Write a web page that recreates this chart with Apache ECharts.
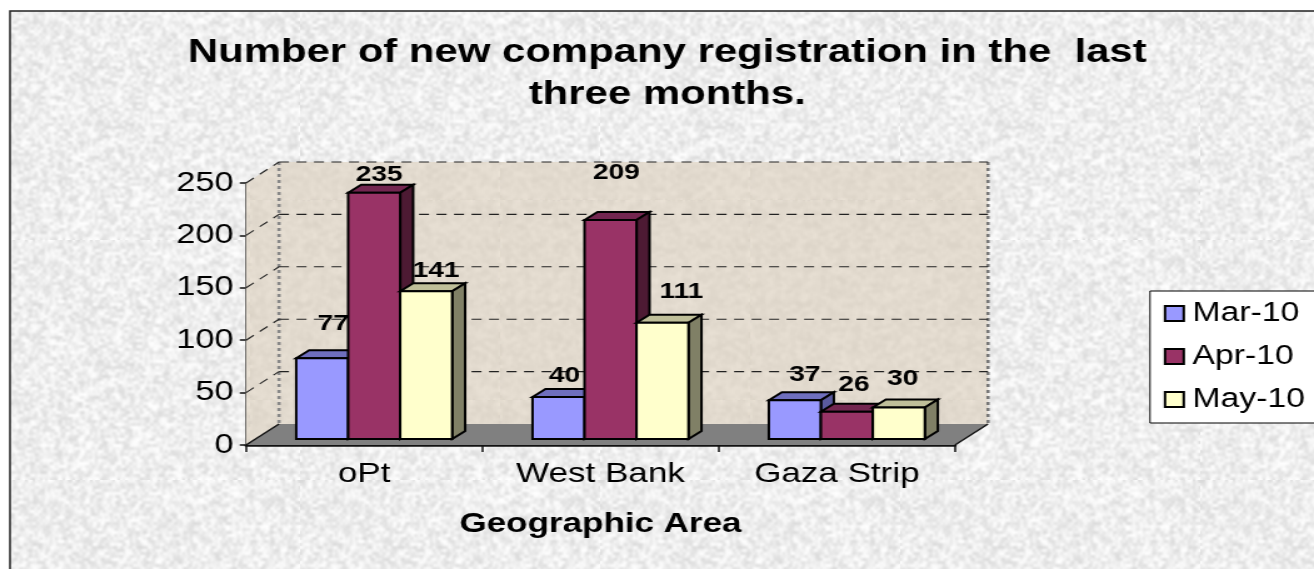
<!DOCTYPE html>
<html>
<head>
<meta charset="utf-8">
<style>
html,body{margin:0;padding:0;width:1314px;height:569px;overflow:hidden;background:#fff}
#chart{width:1051px;height:569px;transform-origin:0 0;transform:scaleX(1.25024)}
</style>
<script src="https://cdn.jsdelivr.net/npm/echarts@6/dist/echarts.min.js"></script>
</head>
<body>
<div id="chart"></div>
<script>
const categories = ['oPt', 'West Bank', 'Gaza Strip'];
const seriesNames = ['Mar-10', 'Apr-10', 'May-10'];
const mar10 = [77, 40, 37];
const apr10 = [235, 209, 26];
const may10 = [141, 111, 30];
const yTicks = [0, 50, 100, 150, 200, 250];
const titleText = 'Number of new company registration in the  last\nthree months.';
const xAxisName = 'Geographic Area';

// Layout and style, in reference pixels (the canvas is stretched horizontally by S)
const S = 1.25024;
const palette = [
  {front: '#9999FF', top: '#6F6FBE', side: '#5A5A9E'},
  {front: '#993366', top: '#732650', side: '#4D1A33'},
  {front: '#FFFFCC', top: '#BFBF99', side: '#808066'}
];
const labelShiftX = [[11, 6, 10], [5, 6, 7], [10, 19, 4]];
const labelRise = [[35, 21, 25], [18, 47, 27], [20, 31, 29]];
const wallDepth = {x: 33 / S, y: -21};
const barDepth = {x: 13 / S, y: -8};
const barInset = {x: 10 / S, y: -6};

function makeTexture(size, base, spread, seed, blur) {
  const c = document.createElement('canvas');
  c.width = c.height = size;
  const g = c.getContext('2d');
  let s = seed;
  const next = () => (s = (s * 1664525 + 1013904223) >>> 0) / 4294967296;
  g.fillStyle = 'rgb(' + base.join(',') + ')';
  g.fillRect(0, 0, size, size);
  for (let y = 0; y < size; y += 3) {
    for (let x = 0; x < size; x += 2) {
      const r = next();
      const d = (r - 0.6) * spread;
      g.fillStyle = 'rgb(' + base.map(v => Math.max(0, Math.min(255, Math.round(v + d)))).join(',') + ')';
      g.fillRect(x, y, 2, 3);
    }
  }
  g.filter = 'blur(' + blur + 'px)';
  g.drawImage(c, 0, 0);
  g.filter = 'none';
  return c;
}
const paperTexture = {image: makeTexture(240, [243, 243, 243], 44, 12345, 0.8), repeat: 'repeat'};
const wallTexture = {image: makeTexture(200, [228, 220, 208], 18, 987, 1.6), repeat: 'repeat'};

function renderWalls(params, api) {
  const cs = params.coordSys;
  const tick = api.value(0);
  const dx = wallDepth.x, dy = wallDepth.y;
  const left = cs.x, right = cs.x + cs.width;
  const y = api.coord([0, tick])[1];
  const y0 = api.coord([0, 0])[1];
  const yTop = api.coord([0, 250])[1];
  const children = [];
  const dash = {stroke: '#222', lineWidth: 1.1, lineDash: [8, 6]};
  if (tick === 0) {
    children.push({type: 'polygon', z2: 0, shape: {points: [[left + dx, yTop + dy], [right + dx, yTop + dy], [right + dx, y0 + dy], [left + dx, y0 + dy]]}, style: {fill: wallTexture}});
    children.push({type: 'polygon', z2: 0, shape: {points: [[left, yTop], [left + dx, yTop + dy], [left + dx, y0 + dy], [left, y0]]}, style: {fill: wallTexture}});
    children.push({type: 'polygon', z2: 1, shape: {points: [[left, y0], [left + dx, y0 + dy], [right + dx, y0 + dy], [right, y0]]}, style: {fill: '#808080'}});
    children.push({type: 'line', z2: 2, shape: {x1: right, y1: y0, x2: right + dx, y2: y0 + dy}, style: {stroke: '#111', lineWidth: 1.5}});
    children.push({type: 'line', z2: 2, shape: {x1: left, y1: y0, x2: left + dx, y2: y0 + dy}, style: {stroke: '#111', lineWidth: 1.5}});
    children.push({type: 'line', z2: 2, shape: {x1: left + dx, y1: yTop + dy, x2: left + dx, y2: y0 + dy}, style: {stroke: '#888', lineWidth: 2.6, lineDash: [3, 3]}});
    children.push({type: 'line', z2: 2, shape: {x1: right + dx, y1: yTop + dy, x2: right + dx, y2: y0 + dy}, style: {stroke: '#777', lineWidth: 2.6, lineDash: [3, 3]}});
  } else {
    children.push({type: 'line', z2: 2, shape: {x1: left + dx, y1: y + dy, x2: right + dx, y2: y + dy}, style: dash});
    children.push({type: 'line', z2: 2, shape: {x1: left, y1: y, x2: left + dx, y2: y + dy}, style: dash});
  }
  return {type: 'group', children};
}

function renderBar(seriesIndex) {
  return function (params, api) {
    const cat = api.value(0), val = api.value(1);
    const catW = api.size([1, 0])[0];
    const w = catW * 0.22;
    const cx = api.coord([cat, 0])[0] + barInset.x + (seriesIndex - 1) * w;
    const yB = api.coord([cat, 0])[1] + barInset.y;
    const yT = api.coord([cat, val])[1] + barInset.y;
    const xL = cx - w / 2, xR = cx + w / 2;
    const dx = barDepth.x, dy = barDepth.y;
    const c = palette[seriesIndex];
    const line = {stroke: '#000', lineWidth: 2, lineJoin: 'miter'};
    return {type: 'group', children: [
      {type: 'polygon', shape: {points: [[xL, yT], [xL + dx, yT + dy], [xR + dx, yT + dy], [xR, yT]]}, style: Object.assign({fill: c.top}, line)},
      {type: 'polygon', shape: {points: [[xR, yT], [xR + dx, yT + dy], [xR + dx, yB + dy], [xR, yB]]}, style: Object.assign({fill: c.side}, line)},
      {type: 'rect', shape: {x: xL, y: yT, width: w, height: yB - yT}, style: Object.assign({fill: c.front}, line)},
      {type: 'text', z2: 100, style: {
        text: String(val),
        x: cx + labelShiftX[seriesIndex][cat] / S,
        y: yT - labelRise[seriesIndex][cat],
        align: 'center', verticalAlign: 'middle',
        font: 'bold 22.5px "Liberation Sans", Arial, sans-serif', fill: '#000'
      }}
    ]};
  };
}

const valueLists = [mar10, apr10, may10];
const option = {
  animation: false,
  backgroundColor: '#fff',
  textStyle: {fontFamily: '"Liberation Sans", Arial, sans-serif'},
  graphic: [{
    type: 'rect', z: -10, silent: true,
    shape: {x: 10 / S, y: 11, width: 1100, height: 600},
    style: {fill: paperTexture, stroke: '#222', lineWidth: 1.5}
  }],
  title: {
    text: titleText,
    left: 661 / S, top: 27, textAlign: 'center',
    textStyle: {fontSize: 33.5, fontWeight: 'bold', color: '#000', lineHeight: 42, fontFamily: '"Liberation Sans", Arial, sans-serif'}
  },
  legend: {
    data: seriesNames,
    orient: 'vertical',
    left: 1150 / S, top: 291,
    padding: [9, 40, 10, 11],
    itemWidth: 15, itemHeight: 15, itemGap: 16,
    icon: 'rect',
    backgroundColor: '#fff', borderColor: '#000', borderWidth: 1,
    textStyle: {fontSize: 27, color: '#000', padding: [0, 0, 0, 2]}
  },
  grid: {left: 246 / S, top: 183, width: 709 / S, height: 262},
  xAxis: {
    type: 'category', data: categories,
    name: xAxisName, nameLocation: 'middle', nameGap: 65,
    nameTextStyle: {fontSize: 28, fontWeight: 'bold', color: '#000'},
    axisLine: {lineStyle: {color: '#111', width: 2.5}},
    axisTick: {show: true, length: 7, lineStyle: {color: '#111', width: 1.5}},
    axisLabel: {fontSize: 28, color: '#000', margin: 15}
  },
  yAxis: {
    type: 'value', min: 0, max: 250, interval: 50,
    axisLine: {show: true, lineStyle: {color: '#111', width: 1.5}},
    axisTick: {show: true, length: 5, lineStyle: {color: '#111', width: 1.5}},
    axisLabel: {fontSize: 27.5, color: '#000', margin: 10},
    splitLine: {show: false}
  },
  series: [
    {type: 'custom', name: 'walls', silent: true, z: 1, coordinateSystem: 'cartesian2d',
     data: yTicks.map(t => [t]), encode: {y: 0}, renderItem: renderWalls},
    ...seriesNames.map((n, i) => ({
      type: 'custom', name: n, z: 3, coordinateSystem: 'cartesian2d',
      itemStyle: {color: palette[i].front, borderColor: '#000', borderWidth: 2},
      data: valueLists[i].map((v, k) => [k, v]),
      encode: {x: 0, y: 1},
      renderItem: renderBar(i)
    }))
  ]
};
echarts.init(document.getElementById('chart')).setOption(option);
</script>
</body>
</html>
